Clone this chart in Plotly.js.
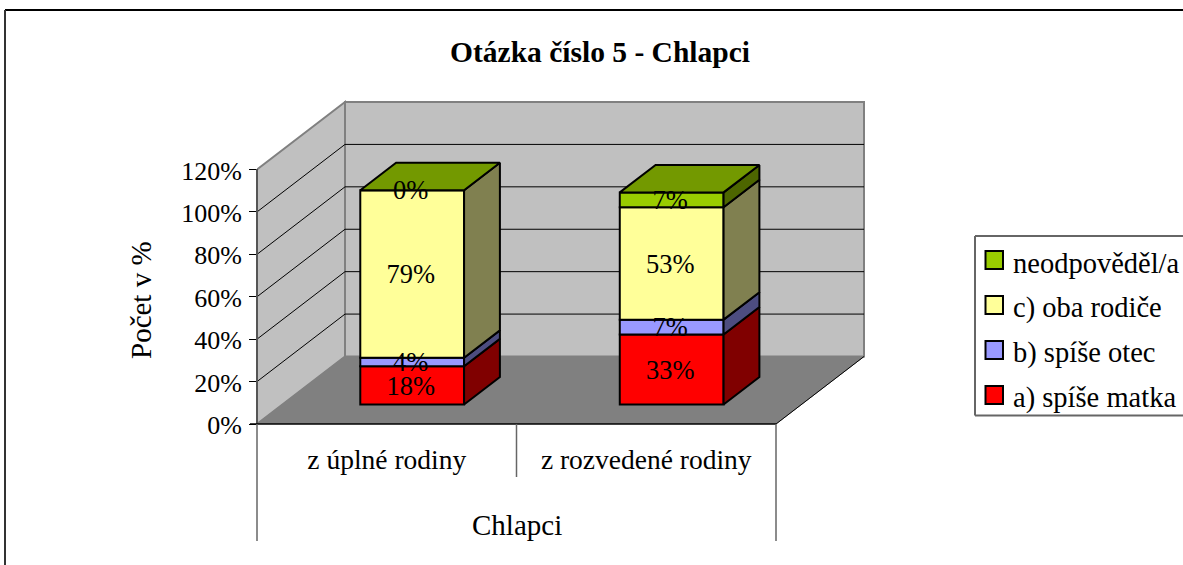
<!DOCTYPE html>
<html><head><meta charset="utf-8">
<script src="https://cdn.plot.ly/plotly-3.0.1.min.js"></script>
<style>html,body{margin:0;padding:0;background:#fff;overflow:hidden}</style>
</head><body><div id="chart" style="width:1183px;height:565px"></div>
<script>
const categories = ['z úplné rodiny', 'z rozvedené rodiny'];
const groupLabel = 'Chlapci';
const seriesNames = ['a) spíše matka', 'b) spíše otec', 'c) oba rodiče', 'neodpověděl/a'];
const matka = [18, 33];
const otec = [4, 7];
const obaRodice = [79, 53];
const neodpovedel = [0, 7];
const seriesValues = [matka, otec, obaRodice, neodpovedel];
const frontColors = ['#ff0000', '#9999ff', '#ffff99', '#99cc00'];
const sideColors = ['#800000', '#4d4d80', '#808050', '#4d6600'];
const topColor = '#739900';
const yTicks = [0, 20, 40, 60, 80, 100, 120];

const W = 1183, H = 565;
const L = 257, R = 870, T = 95, B = 424;
const pxPerCat = 259.5, pxPerPct = 254.5 / 120;
const depthX = 88 / pxPerCat, depthY = 67.5 / pxPerPct;
const nearD = 0.289, farD = 0.696, barW = 0.40;
const px = v => (v - L) / (R - L), py = v => (B - v) / (B - T);

const traces = [], shapes = [];
const poly = (xs, ys, fill) => ({type: 'scatter', mode: 'lines', x: [...xs, xs[0]], y: [...ys, ys[0]], fill: 'toself',
  fillcolor: fill, line: {color: '#000', width: 2}, hoverinfo: 'skip', showlegend: false, cliponaxis: false});

const floorUp = nearD * depthY, floorRight = nearD * depthX;
const centres = categories.map((c, i) => i + 0.5 + floorRight);
const cum = categories.map(() => 0);
const labelX = [], labelY = [], labelT = [];
seriesValues.forEach((vals, s) => {
  const bases = vals.map((v, i) => cum[i] + floorUp);
  traces.push({type: 'bar', name: seriesNames[s], x: centres, y: vals, base: bases, width: barW,
    marker: {color: frontColors[s], line: {color: '#000', width: 2}}, showlegend: false, hoverinfo: 'y'});
  vals.forEach((v, i) => {
    const xr = centres[i] + barW / 2, b = bases[i], t = b + v, dx = (farD - nearD) * depthX, dy = (farD - nearD) * depthY;
    if (v > 0) traces.push(poly([xr, xr + dx, xr + dx, xr], [b, b + dy, t + dy, t], sideColors[s]));
    labelX.push(centres[i] - 1.5 / pxPerCat); labelY.push(b + v / 2 - 1.2); labelT.push(v + '%');
    cum[i] += v;
  });
});
categories.forEach((c, i) => {
  const xl = centres[i] - barW / 2, xr = centres[i] + barW / 2, t = cum[i] + floorUp,
    dx = (farD - nearD) * depthX, dy = (farD - nearD) * depthY;
  traces.push(poly([xl, xr, xr + dx, xl + dx], [t, t, t + dy, t + dy], topColor));
});
traces.push({type: 'scatter', mode: 'text', x: labelX, y: labelY, text: labelT, textposition: 'middle center',
  textfont: {family: 'Liberation Serif', size: 26.5, color: '#000'}, hoverinfo: 'skip', showlegend: false, cliponaxis: false});

const yTop = yTicks[yTicks.length - 1], nCat = categories.length;
const path = pts => 'M' + pts.map(p => p.join(',')).join('L') + 'Z';
const below = (d, fill, col, w) => shapes.push({type: 'path', layer: 'below', xref: 'x', yref: 'y', path: path(d), fillcolor: fill, line: {color: col, width: w}});
const lineB = (x0, y0, x1, y1, col, w) => shapes.push({type: 'line', layer: 'below', xref: 'x', yref: 'y', x0, y0, x1, y1, line: {color: col, width: w}});
below([[depthX, depthY], [nCat + depthX, depthY], [nCat + depthX, yTop + depthY], [depthX, yTop + depthY]], '#c0c0c0', '#808080', 2);
below([[0, 0], [depthX, depthY], [depthX, yTop + depthY], [0, yTop]], '#c0c0c0', '#808080', 2);
below([[0, 0], [nCat, 0], [nCat + depthX, depthY], [depthX, depthY]], '#808080', '#808080', 1);
yTicks.slice(1, -1).forEach(v => {
  lineB(0, v, depthX, v + depthY, '#000', 1);
  lineB(depthX, v + depthY, nCat + depthX, v + depthY, '#000', 1);
});
lineB(nCat, 0, nCat + depthX, depthY, '#000', 1);

const paperLine = (x0, y0, x1, y1, col, w) => shapes.push({type: 'line', xref: 'paper', yref: 'paper',
  x0: px(x0), y0: py(y0), x1: px(x1), y1: py(y1), line: {color: col, width: w}});
paperLine(5, 10, 1183, 10, '#000', 2);
paperLine(5, 10, 5, 565, '#333', 2);
paperLine(257, 169, 257, B, '#555', 2);
paperLine(250, B, 776, B, '#000', 1.5);
paperLine(257, B, 257, 541, '#666', 1.5);
paperLine(776, B, 776, 541, '#666', 1.5);
paperLine(516.5, B, 516.5, 477, '#666', 1.5);

const annotations = [];
const legTop = 236, legBottom = 415.5, legLeft = 975;
paperLine(legLeft, legTop, 1183, legTop, '#666', 2);
paperLine(legLeft, legTop, legLeft, legBottom, '#666', 2);
paperLine(legLeft, legBottom, 1183, legBottom, '#666', 2);
[3, 2, 1, 0].forEach((s, r) => {
  const yc = 260 + r * 45;
  shapes.push({type: 'rect', xref: 'paper', yref: 'paper', x0: px(985.5), x1: px(1003), y0: py(yc - 9), y1: py(yc + 9),
    fillcolor: frontColors[s], line: {color: '#000', width: 2}});
  annotations.push({xref: 'paper', yref: 'paper', x: px(1011), y: py(yc + 3), xanchor: 'left', yanchor: 'middle', showarrow: false,
    text: seriesNames[s], font: {family: 'Liberation Serif', size: 28.5, color: '#000'}});
});
annotations.push({xref: 'x', yref: 'paper', x: nCat / 2, y: py(525), xanchor: 'center', yanchor: 'middle', showarrow: false,
  text: groupLabel, font: {family: 'Liberation Serif', size: 29, color: '#000'}});
annotations.push({xref: 'paper', yref: 'paper', x: px(141), y: py(300), xanchor: 'center', yanchor: 'middle', textangle: -90, showarrow: false,
  text: 'Počet v %', font: {family: 'Liberation Serif', size: 29, color: '#000'}});

const layout = {
  width: W, height: H, paper_bgcolor: '#fff', plot_bgcolor: 'rgba(0,0,0,0)', showlegend: false,
  margin: {l: L, r: W - R, t: T, b: H - B, pad: 0}, barmode: 'overlay', hovermode: false,
  title: {text: '<b>Otázka číslo 5 - Chlapci</b>', x: 600 / W, xanchor: 'center', y: 1 - 51.5 / H, yanchor: 'middle',
    font: {family: 'Liberation Serif', size: 29.5, color: '#000'}},
  xaxis: {range: [0, (R - L) / pxPerCat], tickmode: 'array', tickvals: categories.map((c, i) => i + 0.5), ticktext: categories,
    ticks: '', showgrid: false, zeroline: false, showline: false, ticklabelstandoff: 16,
    tickfont: {family: 'Liberation Serif', size: 27.5, color: '#000'}},
  yaxis: {range: [0, (B - T) / pxPerPct], tickmode: 'array', tickvals: yTicks, ticktext: yTicks.map(v => v + '%'),
    ticks: 'outside', ticklen: 7, tickcolor: '#000', tickwidth: 1, showgrid: false, zeroline: false, showline: false, ticklabelstandoff: 2, ticklabelshift: 1,
    tickfont: {family: 'Liberation Serif', size: 26, color: '#000'}},
  shapes, annotations
};
Plotly.newPlot('chart', traces, layout, {displayModeBar: false, staticPlot: true});
</script></body></html>
